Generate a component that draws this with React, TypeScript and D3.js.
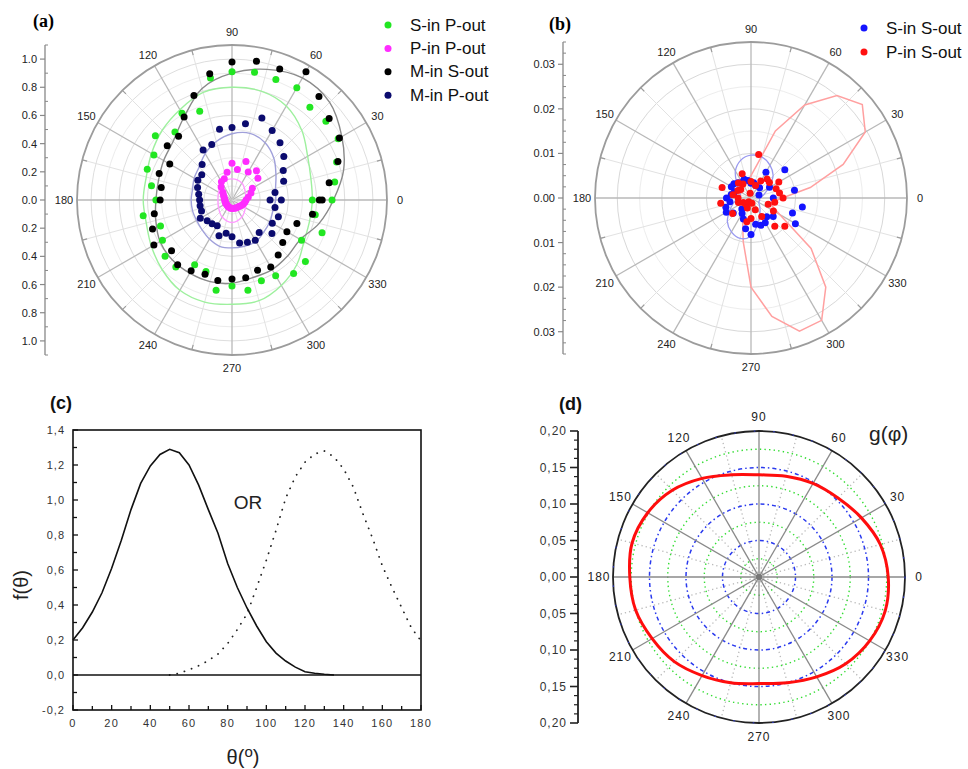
import React from 'react';
import * as d3 from 'd3';

const FONT = "'Liberation Sans', Arial, Helvetica, sans-serif";
const SERIF = "'Liberation Serif', 'Times New Roman', serif";

// ---------- Panel (a) data ----------
const A_ANGLES = [0,10,20,30,40,50,60,70,80,90,100,110,120,130,140,150,160,170,180,190,200,210,220,230,240,250,260,270,280,290,300,310,320,330,340,350,360];
const A_S_IN_P_OUT = [0.71,0.74,0.79,0.87,0.87,0.86,0.92,0.91,0.92,0.91,0.88,0.67,0.71,0.63,0.71,0.64,0.64,0.58,0.54,0.64,0.54,0.57,0.62,0.62,0.53,0.54,0.65,0.61,0.65,0.61,0.62,0.68,0.68,0.57,0.68,0.60,0.57];
const A_M_IN_S_OUT = [0.64,0.70,0.80,0.88,0.90,0.96,1.05,0.99,1.00,0.98,0.91,0.79,0.68,0.59,0.60,0.51,0.55,0.51,0.51,0.56,0.60,0.64,0.56,0.60,0.58,0.56,0.58,0.56,0.56,0.53,0.55,0.51,0.47,0.45,0.49,0.58,0.62];
const A_M_IN_P_OUT = [0.35,0.31,0.39,0.42,0.48,0.53,0.57,0.62,0.55,0.515,0.51,0.42,0.41,0.33,0.28,0.28,0.26,0.24,0.23,0.23,0.23,0.26,0.23,0.22,0.21,0.27,0.24,0.26,0.31,0.32,0.33,0.30,0.37,0.33,0.35,0.31,0.27];
const A_P_ANGLES = [0,10,20,30,40,50,60,70,80,90,100,110,120,130,140,150,160,170,180,190,200,210,220,230,240,250,260,270,280,290,300,310,320,330,340,350];
const A_P_IN_P_OUT = [0.10,0.117,0.143,0.167,0.24,0.27,0.23,0.29,0.22,0.26,0.20,0.16,0.15,0.12,0.085,0.07,0.06,0.055,0.05,0.05,0.05,0.05,0.05,0.05,0.055,0.055,0.06,0.06,0.06,0.062,0.064,0.066,0.07,0.077,0.085,0.093];

const FIT15 = [0,15,30,45,60,75,90,105,120,135,150,165,180,195,210,225,240,255,270,285,300,315,330,345];
const A_FIT_M_S = [0.72,0.82,0.90,0.98,1.00,0.96,0.90,0.82,0.68,0.59,0.56,0.54,0.54,0.56,0.59,0.60,0.60,0.60,0.59,0.57,0.57,0.56,0.56,0.64];
const A_FIT_S_P = [0.57,0.58,0.62,0.70,0.77,0.80,0.80,0.79,0.74,0.70,0.66,0.63,0.63,0.63,0.66,0.70,0.74,0.75,0.74,0.74,0.70,0.65,0.59,0.57];
const A_FIT_M_P = [0.31,0.32,0.36,0.42,0.47,0.49,0.47,0.43,0.38,0.33,0.31,0.29,0.29,0.29,0.29,0.30,0.32,0.34,0.34,0.34,0.34,0.32,0.31,0.30];
const FIT30 = [0,30,60,90,120,150,180,210,240,270,300,330];
const A_FIT_P_P = [0.10,0.11,0.14,0.15,0.14,0.11,0.10,0.11,0.14,0.16,0.14,0.11];
const A_RADIAL_TICKS = [-1.0,-0.8,-0.6,-0.4,-0.2,0,0.2,0.4,0.6,0.8,1.0];

// ---------- Panel (b) data ----------
const B_ANGLES = [0,10,20,30,40,50,60,70,80,90,100,110,120,130,140,150,160,170,180,190,200,210,220,230,240,250,260,270,280,290,300,310,320,330,340,350];
const B_S_IN_S_OUT = [0.005,0.0099,0.0019,0.0048,0.0099,0.003,0.0067,0.003,0.0035,0.0033,0.004,0.0045,0.004,0.0045,0.005,0.0051,0.004,0.0045,0.0055,0.0048,0.006,0.0064,0.0052,0.0032,0.004,0.005,0.007,0.0082,0.006,0.0065,0.0064,0.0055,0.0065,0.0115,0.0099,0.0117];
const B_P_IN_S_OUT = [0.0072,0.0065,0.006,0.0072,0.0054,0.0056,0.0044,0.003,0.0099,0.0037,0.0011,0.0058,0.0036,0.0044,0.003,0.0034,0.0069,0.0041,0.0029,0.0069,0.003,0.002,0.0054,0.0018,0.001,0.0024,0.0054,0.0046,0.0012,0.0028,0.0048,0.0083,0.0099,0.0058,0.0041,0.0054];
const B_FIT_P_S = [0.007,0.0135,0.022,0.0296,0.0326,0.030,0.0241,0.016,0.0075,0.005,0.004,0.0035,0.003,0.0028,0.0026,0.0025,0.0025,0.0025,0.0025,0.0025,0.0026,0.0028,0.003,0.0033,0.004,0.0055,0.010,0.020,0.027,0.0318,0.0317,0.0261,0.0176,0.0075,0.005,0.005];
const B_FIT_S_S = [0.002,0.003,0.0045,0.007,0.0085,0.0095,0.0096,0.0088,0.007,0.0045,0.003,0.0025,0.003,0.004,0.0055,0.0075,0.0088,0.0094,0.0085,0.006,0.004,0.0028,0.002,0.002];
const B_RADIAL_TICKS = [-0.03,-0.02,-0.01,0,0.01,0.02,0.03];

// ---------- Panel (c) data ----------
const C_THETA_SOLID = [0,5,10,15,20,25,30,35,40,45,50,55,60,65,70,75,80,85,90,95,100,105,110,115,120,125,130,135];
const C_F_SOLID = [0.20,0.27,0.36,0.47,0.61,0.77,0.945,1.095,1.195,1.26,1.29,1.27,1.20,1.085,0.945,0.81,0.637,0.50,0.383,0.28,0.19,0.125,0.08,0.045,0.019,0.01,0.004,0.0];
const C_THETA_DOT = [50,55,60,65,70,75,80,85,90,95,100,105,110,115,120,125,130,135,140,145,150,155,160,165,170,175,180];
const C_F_DOT = [0.0,0.01,0.03,0.053,0.082,0.12,0.18,0.26,0.349,0.50,0.656,0.826,1.01,1.133,1.216,1.263,1.28,1.246,1.177,1.074,0.92,0.78,0.624,0.50,0.385,0.27,0.195];
const C_X_TICKS = [0,20,40,60,80,100,120,140,160,180];
const C_Y_TICKS = [-0.2,0,0.2,0.4,0.6,0.8,1.0,1.2,1.4];

// ---------- Panel (d) data ----------
const D_ANGLES = [0,15,30,45,60,75,90,105,120,135,150,165,180,195,210,225,240,255,270,285,300,315,330,345];
const D_G_PHI = [0.177,0.172,0.162,0.153,0.148,0.143,0.140,0.145,0.156,0.168,0.176,0.180,0.177,0.175,0.169,0.164,0.156,0.150,0.146,0.150,0.158,0.168,0.175,0.179];
const D_BLUE_RINGS = [0.05,0.10,0.15];
const D_GREEN_RINGS = [0.025,0.075,0.125,0.175];
const D_RADIAL_TICKS = [-0.2,-0.15,-0.1,-0.05,0,0.05,0.1,0.15,0.2];

const ANGLE_LABELS = [0,30,60,90,120,150,180,210,240,270,300,330];

const rad = (deg: number) => (deg * Math.PI) / 180;
const px = (cx: number, r: number, deg: number) => cx + r * Math.cos(rad(deg));
const py = (cy: number, r: number, deg: number) => cy - r * Math.sin(rad(deg));

function radialPath(angles: number[], vals: number[], scale: (v: number) => number, curve: any) {
  const gen = d3
    .lineRadial<[number, number]>()
    .angle((d) => rad(90 - d[0]))
    .radius((d) => scale(d[1]))
    .curve(curve);
  return gen(angles.map((a, i) => [a, vals[i]] as [number, number])) || '';
}

function PolarFrame(props: {
  cx: number; cy: number; R: number;
  rings: { r: number; stroke: string }[];
  axisX: number; ticks: number[]; minor: number[]; scale: (v: number) => number; fmt: (v: number) => string;
}) {
  const { cx, cy, R, rings, axisX, ticks, minor, scale, fmt } = props;
  const spokes = d3.range(0, 360, 15);
  return (
    <g>
      {rings.map((c, i) => (
        <circle key={'r' + i} cx={cx} cy={cy} r={scale(c.r)} fill="none" stroke={c.stroke} strokeWidth={1} />
      ))}
      {spokes.map((a) => (
        <line key={'s' + a} x1={cx} y1={cy} x2={px(cx, R, a)} y2={py(cy, R, a)}
          stroke={a % 30 === 0 ? '#b8b8b8' : '#e2e2e2'} strokeWidth={a % 30 === 0 ? 1.3 : 1} />
      ))}
      <circle cx={cx} cy={cy} r={R} fill="none" stroke="#9c9c9c" strokeWidth={1.8} />
      {spokes.filter((a) => a % 30 !== 0).map((a) => (
        <line key={'t' + a} x1={px(cx, R, a)} y1={py(cy, R, a)} x2={px(cx, R - 5, a)} y2={py(cy, R - 5, a)} stroke="#9c9c9c" strokeWidth={1.2} />
      ))}
      {ANGLE_LABELS.map((a) => (
        <text key={'l' + a} x={px(cx, R + 13, a)} y={py(cy, R + 13, a)} fontSize={11} fill="#222"
          textAnchor="middle" dominantBaseline="central" fontFamily={FONT}>{a}</text>
      ))}
      <line x1={axisX} y1={cy - R} x2={axisX} y2={cy + R} stroke="#888" strokeWidth={1.3} />
      {minor.map((v, i) => (
        <line key={'m' + i} x1={axisX} y1={cy - scale(v)} x2={axisX + 3} y2={cy - scale(v)} stroke="#888" strokeWidth={1} />
      ))}
      {ticks.map((v, i) => (
        <g key={'k' + i}>
          <line x1={axisX - 5} y1={cy - scale(v)} x2={axisX} y2={cy - scale(v)} stroke="#888" strokeWidth={1.2} />
          <text x={axisX - 8} y={cy - scale(v)} fontSize={11} fill="#222" textAnchor="end" dominantBaseline="central" fontFamily={FONT}>{fmt(v)}</text>
        </g>
      ))}
    </g>
  );
}

function PanelA() {
  const cx = 232, cy = 200, R = 155;
  const s = d3.scaleLinear().domain([0, 1.1]).range([0, R]);
  const sgn = (v: number) => (v < 0 ? -s(-v) : s(v));
  const rings = d3.range(1, 11).map((i) => ({ r: i / 10, stroke: i % 2 === 0 ? '#dedede' : '#ececec' }));
  const minor = d3.range(-11, 12).filter((i) => i % 2 !== 0).map((i) => i / 10);
  const series = [
    { label: 'S-in P-out', color: '#22e622', ang: A_ANGLES, val: A_S_IN_P_OUT },
    { label: 'P-in P-out', color: '#ff2cff', ang: A_P_ANGLES, val: A_P_IN_P_OUT },
    { label: 'M-in S-out', color: '#000000', ang: A_ANGLES, val: A_M_IN_S_OUT },
    { label: 'M-in P-out', color: '#0b0b6e', ang: A_ANGLES, val: A_M_IN_P_OUT },
  ];
  const fits = [
    { ang: FIT15, val: A_FIT_S_P, color: '#9ef09e' },
    { ang: FIT15, val: A_FIT_M_S, color: '#8a8a8a' },
    { ang: FIT15, val: A_FIT_M_P, color: '#a0a0da' },
    { ang: FIT30, val: A_FIT_P_P, color: '#ff9cff' },
  ];
  return (
    <g>
      <PolarFrame cx={cx} cy={cy} R={R} rings={rings} axisX={45} ticks={A_RADIAL_TICKS} minor={minor}
        scale={sgn} fmt={(v) => Math.abs(v).toFixed(1)} />
      <g transform={`translate(${cx},${cy})`}>
        {fits.map((f, i) => (
          <path key={i} d={radialPath(f.ang, f.val, s, d3.curveCardinalClosed)} fill="none" stroke={f.color} strokeWidth={1.4} />
        ))}
      </g>
      {series.map((se) => (
        <g key={se.label}>
          {se.ang.map((a, i) => (
            <circle key={i} cx={px(cx, s(se.val[i]), a)} cy={py(cy, s(se.val[i]), a)} r={3.5} fill={se.color} />
          ))}
        </g>
      ))}
      {series.map((se, i) => (
        <g key={'lg' + i}>
          <circle cx={388} cy={25 + i * 23.4} r={3.5} fill={se.color} />
          <text x={410} y={25 + i * 23.4} fontSize={17} fontFamily={FONT} dominantBaseline="central" fill="#111">{se.label}</text>
        </g>
      ))}
      <text x={33} y={27} fontSize={18} fontWeight="bold" fontFamily={SERIF}>(a)</text>
    </g>
  );
}

function PanelB() {
  const cx = 751, cy = 198, R = 156;
  const s = d3.scaleLinear().domain([0, 0.035]).range([0, R]);
  const sgn = (v: number) => (v < 0 ? -s(-v) : s(v));
  const rings = d3.range(1, 7).map((i) => ({ r: i * 0.005, stroke: i % 2 === 0 ? '#d8d8d8' : '#ededed' }));
  const minor = d3.range(-14, 15).filter((i) => i % 4 !== 0).map((i) => i * 0.0025);
  const series = [
    { label: 'S-in S-out', color: '#1414ff', val: B_S_IN_S_OUT },
    { label: 'P-in S-out', color: '#ff1010', val: B_P_IN_S_OUT },
  ];
  return (
    <g>
      <PolarFrame cx={cx} cy={cy} R={R} rings={rings} axisX={563} ticks={B_RADIAL_TICKS} minor={minor}
        scale={sgn} fmt={(v) => Math.abs(v).toFixed(2)} />
      <g transform={`translate(${cx},${cy})`}>
        <path d={radialPath(B_ANGLES, B_FIT_P_S, s, d3.curveLinearClosed)} fill="none" stroke="#ffa0a0" strokeWidth={1.5} />
        <path d={radialPath(FIT15, B_FIT_S_S, s, d3.curveCardinalClosed)} fill="none" stroke="#9a9af0" strokeWidth={1.3} />
      </g>
      {series.map((se) => (
        <g key={se.label}>
          {B_ANGLES.map((a, i) => (
            <circle key={i} cx={px(cx, s(se.val[i]), a)} cy={py(cy, s(se.val[i]), a)} r={3.5} fill={se.color} />
          ))}
        </g>
      ))}
      {series.map((se, i) => (
        <g key={'lg' + i}>
          <circle cx={864} cy={28 + i * 24} r={3.5} fill={se.color} />
          <text x={886} y={28 + i * 24} fontSize={17} fontFamily={FONT} dominantBaseline="central" fill="#111">{se.label}</text>
        </g>
      ))}
      <text x={549} y={30} fontSize={18} fontWeight="bold" fontFamily={SERIF}>(b)</text>
    </g>
  );
}

function PanelC() {
  const x = d3.scaleLinear().domain([0, 180]).range([73, 421]);
  const y = d3.scaleLinear().domain([-0.2, 1.4]).range([710, 430]);
  const line = d3.line<[number, number]>().x((d) => x(d[0])).y((d) => y(d[1]));
  const solid = line(C_THETA_SOLID.map((t, i) => [t, C_F_SOLID[i]] as [number, number])) || '';
  const dotted = line(C_THETA_DOT.map((t, i) => [t, C_F_DOT[i]] as [number, number])) || '';
  const xMinor = d3.range(0, 181, 10);
  const yMinor = d3.range(-2, 15).map((i) => i / 10);
  return (
    <g>
      <path d={dotted} fill="none" stroke="#222" strokeWidth={1.8} strokeDasharray="0.1 7.5" strokeLinecap="round" />
      <path d={solid} fill="none" stroke="#111" strokeWidth={1.6} />
      <line x1={x(0)} x2={x(180)} y1={y(0)} y2={y(0)} stroke="#111" strokeWidth={1.5} />
      <rect x={73} y={430} width={348} height={280} fill="none" stroke="#111" strokeWidth={1.6} />
      {xMinor.map((t) => (
        <line key={'xm' + t} x1={x(t)} x2={x(t)} y1={710} y2={t % 20 === 0 ? 705 : 706} stroke="#111" strokeWidth={1.3} />
      ))}
      {yMinor.map((v, i) => (
        <line key={'ym' + i} x1={73} x2={i % 2 === 0 ? 78 : 77} y1={y(v)} y2={y(v)} stroke="#111" strokeWidth={1.3} />
      ))}
      {C_X_TICKS.map((t) => (
        <text key={'xl' + t} x={x(t)} y={723} fontSize={11} fill="#333" textAnchor="middle" dominantBaseline="central"
          fontFamily={FONT} letterSpacing={1.2}>{t}</text>
      ))}
      {C_Y_TICKS.map((v) => (
        <text key={'yl' + v} x={65} y={y(v)} fontSize={11} fill="#333" textAnchor="end" dominantBaseline="central"
          fontFamily={FONT} letterSpacing={1}>{v.toFixed(1).replace('.', ',')}</text>
      ))}
      <text x={248} y={509} fontSize={19} fontFamily={FONT} textAnchor="middle" fill="#222">OR</text>
      <text transform="translate(28,585) rotate(-90)" fontSize={20} fontFamily={FONT} textAnchor="middle" fill="#222">f(θ)</text>
      <text x={243} y={764} fontSize={20} fontFamily={FONT} textAnchor="middle" fill="#222">
        θ(<tspan fontSize={15} dy={-7}>o</tspan><tspan dy={7}>)</tspan>
      </text>
      <text x={50} y={409} fontSize={18} fontWeight="bold" fontFamily={FONT} fill="#111">(c)</text>
    </g>
  );
}

function PanelD() {
  const cx = 759, cy = 577, R = 146;
  const s = d3.scaleLinear().domain([0, 0.2]).range([0, R]);
  const axisX = 578;
  const minorTicks = d3.range(-16, 17).filter((i) => i % 4 !== 0).map((i) => i * 0.0125);
  return (
    <g>
      {d3.range(15, 360, 30).map((a) => (
        <line key={'gs' + a} x1={cx} y1={cy} x2={px(cx, R, a)} y2={py(cy, R, a)} stroke="#b9b9b9" strokeWidth={1.3} strokeDasharray="1.3 3" />
      ))}
      {D_GREEN_RINGS.map((r) => (
        <circle key={'g' + r} cx={cx} cy={cy} r={s(r)} fill="none" stroke="#33dd33" strokeWidth={1.4} strokeDasharray="1.4 3.2" />
      ))}
      {D_BLUE_RINGS.map((r) => (
        <circle key={'b' + r} cx={cx} cy={cy} r={s(r)} fill="none" stroke="#2a3aee" strokeWidth={1.5} strokeDasharray="4 3 1.5 3" />
      ))}
      {d3.range(0, 180, 30).map((a) => (
        <line key={'sp' + a} x1={px(cx, R, a)} y1={py(cy, R, a)} x2={px(cx, R, a + 180)} y2={py(cy, R, a + 180)} stroke="#8a8a8a" strokeWidth={1.3} />
      ))}
      <circle cx={cx} cy={cy} r={R} fill="none" stroke="#222" strokeWidth={1.8} />
      <circle cx={cx} cy={cy} r={R} fill="none" stroke="#2a3aee" strokeWidth={1} strokeDasharray="1.5 18" />
      <circle cx={cx} cy={cy} r={3} fill="#777" />
      <g transform={`translate(${cx},${cy})`}>
        <path d={radialPath(D_ANGLES, D_G_PHI, s, d3.curveCardinalClosed)} fill="none" stroke="#ff0d0d" strokeWidth={3} />
      </g>
      {ANGLE_LABELS.map((a) => (
        <text key={'l' + a} x={px(cx, R + 14, a)} y={py(cy, R + 14, a)} fontSize={12} fill="#222"
          textAnchor="middle" dominantBaseline="central" fontFamily={FONT} letterSpacing={1}>{a}</text>
      ))}
      <line x1={axisX} y1={cy - R} x2={axisX} y2={cy + R} stroke="#222" strokeWidth={1.8} />
      {minorTicks.map((v, i) => (
        <line key={'mt' + i} x1={axisX - 4} x2={axisX} y1={cy - s(v)} y2={cy - s(v)} stroke="#222" strokeWidth={1.2} />
      ))}
      {D_RADIAL_TICKS.map((v, i) => (
        <g key={'rt' + i}>
          <line x1={axisX - 8} x2={axisX} y1={cy - s(v)} y2={cy - s(v)} stroke="#222" strokeWidth={1.6} />
          <text x={567} y={cy - s(v)} fontSize={12} fill="#333" textAnchor="end" dominantBaseline="central" fontFamily={FONT} letterSpacing={1}>
            {Math.abs(v).toFixed(2).replace('.', ',')}
          </text>
        </g>
      ))}
      <text x={869} y={441} fontSize={21} fontFamily={FONT} fill="#222">g(φ)</text>
      <text x={559} y={410} fontSize={18} fontWeight="bold" fontFamily={FONT} fill="#111">(d)</text>
    </g>
  );
}

export default function App() {
  return (
    <svg width={968} height={769} viewBox="0 0 968 769" style={{ position: 'absolute', left: 0, top: 0, background: '#fff' }}>
      <rect x={0} y={0} width={968} height={769} fill="#fff" />
      <PanelA />
      <PanelB />
      <PanelC />
      <PanelD />
    </svg>
  );
}
